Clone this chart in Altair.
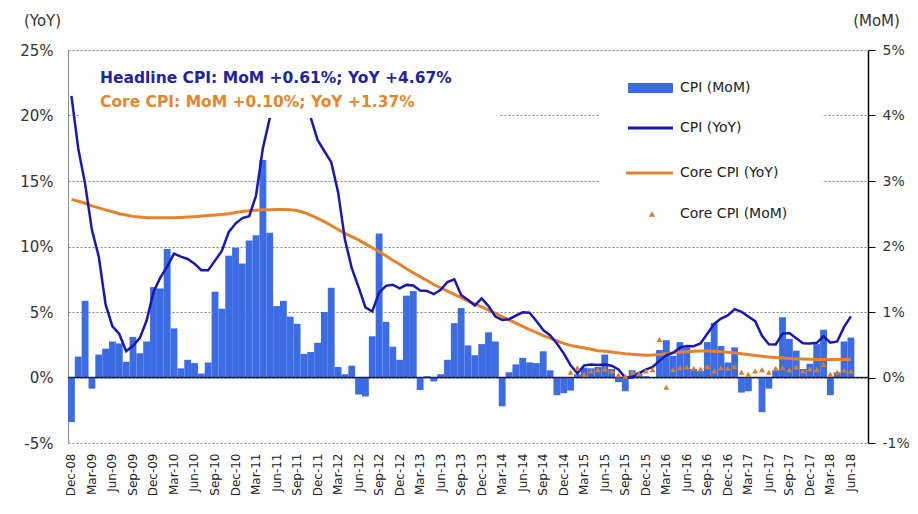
import altair as alt
import pandas as pd

# ---------------- data ----------------
month_labels = [d.strftime("%b-%y") for d in pd.date_range("2008-12-01", "2018-08-01", freq="MS")]
tick_labels = month_labels[0:115:3]

cpi_yoy = [21.5,
    17.48, 14.78, 11.25, 9.23, 5.58, 3.91, 3.32, 2.0, 2.42, 3.0, 4.35, 6.52,
    7.62, 8.46, 9.46, 9.23, 9.05, 8.69, 8.19, 8.18, 8.92, 9.66, 11.09, 11.75,
    12.17, 12.31, 13.89, 17.51, 19.78, 20.82, 22.16, 23.02, 22.42, 21.59, 19.83, 18.13,
    17.27, 16.44, 14.15, 10.54, 8.34, 6.9, 5.35, 5.04, 6.48, 7.0, 7.08, 6.81,
    7.07, 7.02, 6.64, 6.61, 6.36, 6.69, 7.29, 7.5, 6.3, 5.92, 5.5, 6.04,
    5.45, 4.65, 4.39, 4.45, 4.72, 4.98, 4.94, 4.31, 3.62, 3.23, 2.6, 1.84,
    0.94, 0.32, 0.93, 0.99, 0.95, 1.0, 0.9, 0.61, 0.0, 0.0, 0.34, 0.6,
    0.8, 1.27, 1.69, 1.89, 2.28, 2.4, 2.39, 2.6, 3.34, 4.09, 4.5, 4.74,
    5.22, 5.02, 4.65, 4.3, 3.19, 2.54, 2.52, 3.35, 3.4, 3.0, 2.62, 2.6,
    2.65, 3.15, 2.66, 2.75, 3.86, 4.67]

cpi_mom = [-0.68,
    0.32, 1.17, -0.17, 0.35, 0.44, 0.55, 0.52, 0.24, 0.62, 0.37, 0.55, 1.38,
    1.36, 1.96, 0.75, 0.14, 0.27, 0.22, 0.06, 0.23, 1.31, 1.05, 1.86, 1.98,
    1.74, 2.09, 2.17, 3.32, 2.21, 1.09, 1.17, 0.93, 0.82, 0.36, 0.39, 0.53,
    1.0, 1.37, 0.16, 0.05, 0.18, -0.26, -0.29, 0.63, 2.2, 0.85, 0.47, 0.27,
    1.25, 1.32, -0.19, 0.02, -0.06, 0.05, 0.27, 0.83, 1.06, 0.49, 0.34, 0.51,
    0.69, 0.55, -0.44, 0.08, 0.2, 0.3, 0.23, 0.22, 0.4, 0.11, -0.27, -0.24,
    -0.2, 0.05, 0.15, 0.14, 0.16, 0.35, 0.13, -0.07, -0.21, 0.11, 0.08, 0.02,
    0.0, 0.42, 0.57, 0.33, 0.54, 0.46, 0.13, 0.1, 0.54, 0.83, 0.48, 0.23,
    0.46, -0.23, -0.21, 0.0, -0.53, -0.17, 0.11, 0.92, 0.59, 0.41, 0.13, 0.21,
    0.51, 0.73, -0.27, 0.08, 0.55, 0.61]

core_yoy = [13.6,
    13.45, 13.3, 13.1, 12.95, 12.8, 12.65, 12.5, 12.4, 12.3, 12.25, 12.2, 12.2,
    12.2, 12.2, 12.2, 12.22, 12.25, 12.28, 12.32, 12.36, 12.4, 12.45, 12.5, 12.6,
    12.68, 12.72, 12.76, 12.8, 12.8, 12.82, 12.82, 12.8, 12.75, 12.6, 12.4, 12.15,
    11.9, 11.6, 11.3, 11.0, 10.75, 10.5, 10.2, 9.9, 9.6, 9.3, 8.95, 8.65,
    8.3, 8.0, 7.7, 7.4, 7.1, 6.85, 6.6, 6.35, 6.1, 5.85, 5.6, 5.4,
    5.15, 4.9, 4.65, 4.4, 4.15, 3.9, 3.65, 3.45, 3.2, 3.0, 2.8, 2.6,
    2.45, 2.35, 2.25, 2.15, 2.05, 2.0, 1.95, 1.88, 1.82, 1.78, 1.74, 1.7,
    1.72, 1.76, 1.82, 1.88, 1.93, 1.97, 2.0, 2.02, 2.02, 2.0, 1.97, 1.93,
    1.88, 1.82, 1.75, 1.68, 1.62, 1.56, 1.52, 1.48, 1.45, 1.42, 1.41, 1.4,
    1.38, 1.38, 1.37, 1.37, 1.37, 1.37]

# Core CPI MoM, Jan-15 .. Jun-18
core_mom = [
    0.08, 0.15, 0.05, 0.1, 0.12, 0.13, 0.1, 0.04, 0.02, 0.08, 0.06, 0.1,
    0.12, 0.58, -0.15, 0.12, 0.15, 0.16, 0.14, 0.13, 0.17, 0.1, 0.15, 0.14,
    0.17, 0.08, 0.05, 0.1, 0.12, 0.08, 0.14, 0.15, 0.12, 0.16, 0.1, 0.13,
    0.12, 0.2, 0.05, 0.08, 0.11, 0.1]

headline_text = "Headline CPI: MoM +0.61%; YoY +4.67%"
core_text = "Core CPI: MoM +0.10%; YoY +1.37%"
legend_labels = ["CPI (MoM)", "CPI (YoY)", "Core CPI (YoY)", "Core CPI (MoM)"]

n = len(cpi_yoy)
df = pd.DataFrame({
    "month": month_labels[:n],
    "cpi_yoy": cpi_yoy,
    "cpi_mom": cpi_mom,
    "core_yoy": core_yoy,
    "core_mom": [None] * (n - len(core_mom)) + core_mom,
})
one = pd.DataFrame({"z": [0]})

# ---------------- style ----------------
FONT = "DejaVu Sans"
BAR = "#3B6CE4"
NAVY = "#1818B0"
ORANGE = "#E8822A"
TRI = "#E07A22"
W, H = 800, 393

YOY_DOM = alt.Scale(domain=[-5, 25], nice=False, zero=False)
MOM_DOM = alt.Scale(domain=[-1, 5], nice=False, zero=False)

x_axis = alt.Axis(values=tick_labels, labelAngle=-90, labelPadding=10, ticks=False,
                  domain=False, grid=False, labelFont=FONT, labelFontSize=12,
                  labelColor="#222", title=None, labelOverlap=False)
x_enc = alt.X("month:O", scale=alt.Scale(domain=month_labels, paddingInner=0, paddingOuter=0),
              axis=x_axis, title=None)

left_axis = alt.Axis(orient="left", values=[-5, 0, 5, 10, 15, 20, 25],
                     labelExpr="datum.value + '%'", grid=True, gridColor="#808080",
                     gridDash=[2, 2], gridWidth=1, domain=True, domainColor="#8a8a8a",
                     ticks=False, labelPadding=15, labelFont=FONT, labelFontSize=15,
                     labelColor="#333", title="(YoY)", titleAngle=0, titleX=-26, titleY=-30,
                     titleAlign="center", titleBaseline="middle", titleFont=FONT,
                     titleFontSize=15, titleFontWeight="normal", titleColor="#333")
right_axis = alt.Axis(orient="right", values=[-1, 0, 1, 2, 3, 4, 5],
                      labelExpr="datum.value + '%'", grid=False, domain=True,
                      domainColor="#000", domainWidth=1.5, ticks=True, tickColor="#000",
                      tickSize=7, labelPadding=7, labelFont=FONT, labelFontSize=14,
                      labelColor="#333", title="(MoM)", titleAngle=0, titleX=8, titleY=-30,
                      titleAlign="center", titleBaseline="middle", titleFont=FONT,
                      titleFontSize=15, titleFontWeight="normal", titleColor="#333")

base = alt.Chart(df)

bars = base.mark_bar(color=BAR).encode(
    x=x_enc, y=alt.Y("cpi_mom:Q", scale=MOM_DOM, axis=right_axis, title="(MoM)"))

zero = alt.Chart(one).mark_rule(color="#20204a", strokeWidth=1.5).encode(
    x=alt.value(0), x2=alt.value(W),
    y=alt.Y("z:Q", scale=YOY_DOM, axis=None))

core_line = base.mark_line(color=ORANGE, strokeWidth=3).encode(
    x=x_enc, y=alt.Y("core_yoy:Q", scale=YOY_DOM, axis=None))

cpi_line = base.mark_line(color=NAVY, strokeWidth=2.5).encode(
    x=x_enc, y=alt.Y("cpi_yoy:Q", scale=YOY_DOM, axis=left_axis, title="(YoY)"))

tri = base.mark_point(shape="triangle-up", filled=True, color=TRI, size=34, opacity=1).encode(
    x=x_enc, y=alt.Y("core_mom:Q", scale=MOM_DOM, axis=None))

# annotation & legend backgrounds
text_box = alt.Chart(one).mark_rect(color="white").encode(
    x=alt.value(12), x2=alt.value(432), y=alt.value(10), y2=alt.value(68))
legend_box = alt.Chart(one).mark_rect(color="white").encode(
    x=alt.value(532), x2=alt.value(754), y=alt.value(10), y2=alt.value(185))

head = alt.Chart(one).mark_text(text=headline_text, font=FONT, fontSize=15.5, fontWeight="bold",
                                color="#23239E", align="left", baseline="middle").encode(
    x=alt.value(32), y=alt.value(28))
core = alt.Chart(one).mark_text(text=core_text, font=FONT, fontSize=15.5, fontWeight="bold",
                                color="#E5862E", align="left", baseline="middle").encode(
    x=alt.value(32), y=alt.value(52))

# legend
lg_rect = alt.Chart(one).mark_rect(color=BAR).encode(
    x=alt.value(560), x2=alt.value(605), y=alt.value(33), y2=alt.value(43))
lg_cpi = alt.Chart(one).mark_rule(color=NAVY, strokeWidth=3).encode(
    x=alt.value(560), x2=alt.value(605), y=alt.value(78))
lg_core = alt.Chart(one).mark_rule(color=ORANGE, strokeWidth=3).encode(
    x=alt.value(558), x2=alt.value(605), y=alt.value(123))
lg_tri = alt.Chart(one).mark_point(shape="triangle-up", filled=True, color="#C9803E",
                                   size=40, opacity=1).encode(
    x=alt.value(584), y=alt.value(164))
lg_texts = [
    alt.Chart(one).mark_text(text=t, font=FONT, fontSize=14, color="#222",
                             align="left", baseline="middle").encode(
        x=alt.value(612), y=alt.value(yy))
    for t, yy in zip(legend_labels, [38, 78, 123, 164])
]

chart = alt.layer(
    bars, zero, core_line, cpi_line, tri, text_box, legend_box, head, core,
    lg_rect, lg_cpi, lg_core, lg_tri, *lg_texts
).resolve_scale(y="independent").properties(
    width=W, height=H,
    autosize=alt.AutoSizeParams(type="none"),
    padding={"left": 60, "top": 42, "right": 42, "bottom": 63},
    background="white",
).configure_view(stroke=None)

chart.save("out.html", embed_options={"renderer": "svg", "actions": False})
